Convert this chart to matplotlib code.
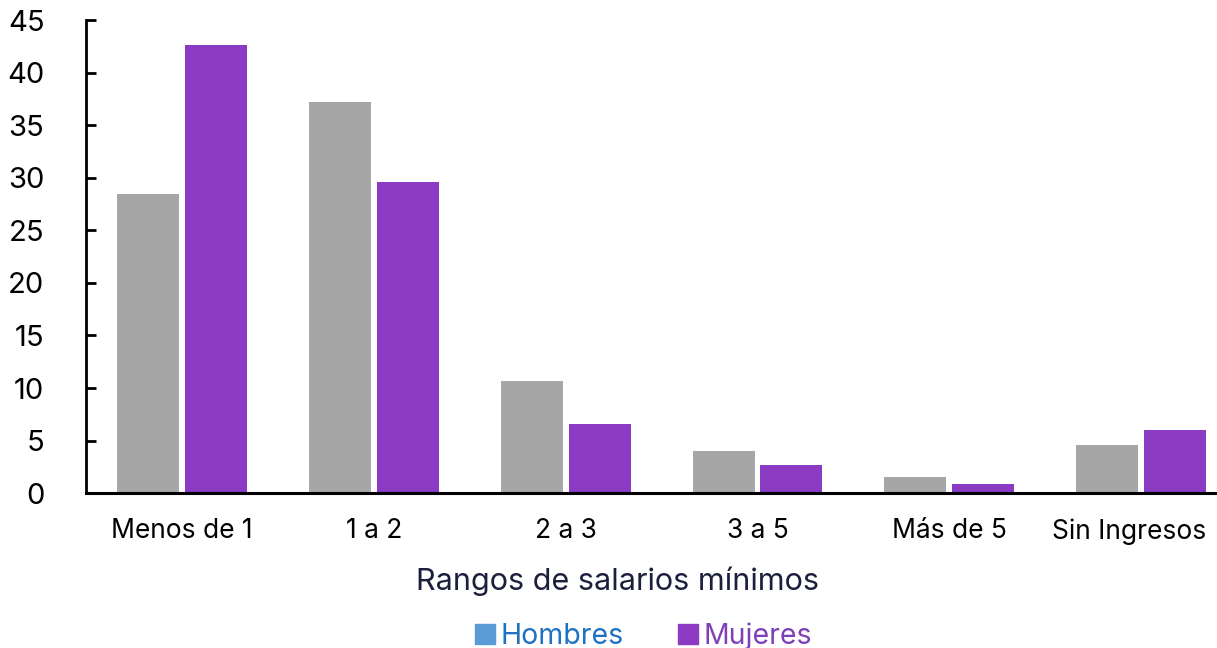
import matplotlib.pyplot as plt
from matplotlib.patches import Patch
from matplotlib.transforms import ScaledTranslation
import numpy as np

categories = ["Menos de 1", "1 a 2", "2 a 3", "3 a 5", "Más de 5", "Sin Ingresos"]
hombres = [28.5, 37.2, 10.7, 4.0, 1.5, 4.6]
mujeres = [42.6, 29.6, 6.6, 2.7, 0.9, 6.0]

GRAY = "#A6A6A6"
PURPLE = "#8A3BC2"
BLUE_KEY = "#5B9BD5"
BLUE_TEXT = "#1F72C0"
PURPLE_TEXT = "#7E3FB8"
TITLE_COLOR = "#1B1F3B"

plt.rcParams["font.family"] = ["Inter", "DejaVu Sans"]

fig = plt.figure(figsize=(12.17, 6.48), dpi=100)
ax = fig.add_axes([0.0707, 0.239, 0.9293, 0.730])

x = np.arange(len(categories))
w = 0.323
off = 0.177
ax.bar(x - off, hombres, width=w, color=GRAY, zorder=2)
ax.bar(x + off, mujeres, width=w, color=PURPLE, zorder=2)

ax.set_xlim(-0.5, 5.395)
ax.set_ylim(0, 45)
ax.set_yticks(range(0, 46, 5))
ax.set_xticks(x)
ax.set_xticklabels(categories)

for s in ("top", "right"):
    ax.spines[s].set_visible(False)
ax.spines["left"].set_linewidth(2)
ax.spines["bottom"].set_linewidth(2.2)
ax.spines["left"].set_color("black")
ax.spines["bottom"].set_color("black")

ax.tick_params(axis="y", direction="in", length=7, width=2,
               labelsize=21, pad=30, colors="black")
ax.tick_params(axis="x", length=0, labelsize=19, pad=18, colors="black")

# last label sits against the right edge; nudge it inward
last = ax.get_xticklabels()[-1]
last.set_transform(last.get_transform()
                   + ScaledTranslation(-12 / 100, 0, fig.dpi_scale_trans))

ax.set_xlabel("Rangos de salarios mínimos", fontsize=22,
              color=TITLE_COLOR, labelpad=18)
ax.xaxis.set_label_coords(0.47, -0.155)

handles = [Patch(color=BLUE_KEY), Patch(color=PURPLE)]
leg = fig.legend(handles, ["Hombres", "Mujeres"], loc="center",
                 bbox_to_anchor=(0.529, 0.018), ncol=2, frameon=False,
                 fontsize=20.5, handlelength=0.7, handleheight=0.7,
                 handletextpad=0.2, columnspacing=1.9)
for txt, c in zip(leg.get_texts(), [BLUE_TEXT, PURPLE_TEXT]):
    txt.set_color(c)

fig.savefig("out.png", dpi=100, facecolor="white")
